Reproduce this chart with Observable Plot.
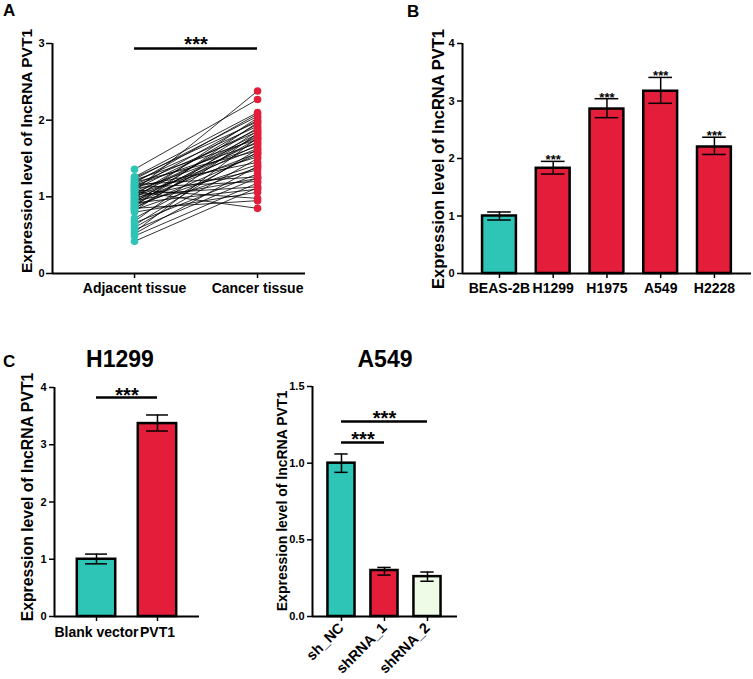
<!DOCTYPE html>
<html>
<head>
<meta charset="utf-8">
<script src="https://cdn.jsdelivr.net/npm/d3@7"></script>
<script src="https://cdn.jsdelivr.net/npm/@observablehq/plot@0.6"></script>
<style>
  html, body { margin: 0; padding: 0; background: #fff; }
  #fig { position: relative; width: 753px; height: 679px; background: #fff; overflow: hidden;
         font-family: "Liberation Sans", Arial, sans-serif; font-weight: bold; color: #000; }
  .panel { position: absolute; }
  .panel svg { display: block; }
  .lbl { position: absolute; white-space: nowrap; line-height: 1; font-weight: bold; }
  .ylab { position: absolute; white-space: nowrap; line-height: 1; font-weight: bold;
          transform: translate(-50%, -50%) rotate(-90deg); }
</style>
</head>
<body>
<div id="fig"></div>
<script>
// ---------- Data ----------
const tissueGroups = ["Adjacent tissue", "Cancer tissue"];
const adjacentValues = [1.36,1.26,1.25,1.23,1.22,1.2,1.19,1.18,1.16,1.16,1.15,1.13,1.12,1.12,1.1,1.09,1.08,1.08,1.07,1.05,1.04,1.03,1.03,1.01,1.0,0.99,0.98,0.96,0.95,0.95,0.93,0.92,0.91,0.9,0.89,0.88,0.86,0.85,0.85,0.83,0.82,0.8,0.72,0.68,0.66,0.63,0.6,0.57,0.54,0.52,0.49,0.42];
const cancerValues = [2.27,2.1,1.98,2.05,1.75,1.92,1.6,2.08,1.26,1.85,1.7,1.45,2.0,1.2,1.88,0.98,1.66,2.38,0.85,1.78,1.52,1.95,1.13,1.82,1.63,1.35,2.03,1.72,1.24,1.57,1.9,1.1,1.8,1.68,1.42,1.97,1.55,0.95,1.76,1.38,1.86,1.06,1.58,1.83,1.3,1.62,1.5,1.25,1.77,1.4,1.18,1.12];
const tissueTicks = [0, 1, 2, 3];
const tissueComparisons = [{from: 0, to: 1, level: 2.935}];

const cellLines = ["BEAS-2B", "H1299", "H1975", "A549", "H2228"];
const cellMeans = [1.0, 1.83, 2.86, 3.17, 2.2];
const cellLow   = [0.93, 1.73, 2.71, 2.96, 2.07];
const cellHigh  = [1.07, 1.95, 3.04, 3.41, 2.37];
const cellStars = ["", "***", "***", "***", "***"];
const cellTicks = [0, 1, 2, 3, 4];

const h1299Groups = ["Blank vector", "PVT1"];
const h1299Means = [1.0, 3.37];
const h1299Low   = [0.92, 3.24];
const h1299High  = [1.09, 3.52];
const h1299Ticks = [0, 1, 2, 3, 4];
const h1299Comparisons = [{from: 0, to: 1, level: 3.825}];

const a549Groups = ["sh_NC", "shRNA_1", "shRNA_2"];
const a549Means = [1.0, 0.30, 0.26];
const a549Low   = [0.94, 0.27, 0.23];
const a549High  = [1.06, 0.32, 0.29];
const a549Ticks = [0, 0.5, 1.0, 1.5];
const a549Comparisons = [{from: 0, to: 2, level: 1.272}, {from: 0, to: 1, level: 1.135}];

// ---------- Styles ----------
const TEAL = "#2EC4B6";
const RED = "#E41E3A";
const PALE = "#EEFBE6";
const FONT = "'Liberation Sans', Arial, sans-serif";

const fig = document.getElementById("fig");

function place(node, left, top) {
  const d = document.createElement("div");
  d.className = "panel";
  d.style.left = left + "px";
  d.style.top = top + "px";
  d.appendChild(node);
  fig.appendChild(d);
}
function label(text, left, baseline, size, center) {
  const d = document.createElement("div");
  d.className = "lbl";
  d.textContent = text;
  d.style.fontSize = size + "px";
  d.style.top = (baseline - 0.8465 * size) + "px";
  d.style.left = left + "px";
  if (center) d.style.transform = "translateX(-50%)";
  fig.appendChild(d);
}
function ylabel(text, cx, cy, size) {
  const d = document.createElement("div");
  d.className = "ylab";
  d.textContent = text;
  d.style.fontSize = size + "px";
  d.style.left = cx + "px";
  d.style.top = cy + "px";
  fig.appendChild(d);
}
const baseStyle = {fontFamily: FONT, fontWeight: "bold", fontSize: "11px", color: "black", background: "transparent"};

// ---------- Panel A ----------
const pairs = adjacentValues.map((a, k) => ({a, c: cancerValues[k]}));
const xDomA = [-0.667, 1.39];
const plotA = Plot.plot({
  width: 310, height: 310,
  marginLeft: 52, marginRight: 5, marginTop: 43, marginBottom: 37,
  x: {domain: xDomA}, y: {domain: [0, 3]},
  style: baseStyle,
  marks: [
    Plot.link(pairs, {x1: () => 0, x2: () => 1, y1: "a", y2: "c", stroke: "black", strokeWidth: 0.8}),
    Plot.dot(adjacentValues, {x: () => 0, y: d => d, r: 3.8, fill: TEAL, stroke: "none"}),
    Plot.dot(cancerValues, {x: () => 1, y: d => d, r: 3.8, fill: RED, stroke: "none"}),
    Plot.ruleX([xDomA[0]], {stroke: "black", strokeWidth: 2}),
    Plot.ruleY([0], {stroke: "black", strokeWidth: 2}),
    Plot.ruleY(tissueComparisons, {x1: "from", x2: "to", y: "level", stroke: "black", strokeWidth: 2.5}),
    Plot.text(tissueComparisons, {x: d => (d.from + d.to) / 2, y: "level", text: () => "***", lineAnchor: "bottom", dy: 3, fontSize: 20, fontWeight: "bold"}),
    Plot.axisX({ticks: [0, 1], tickFormat: i => tissueGroups[i], tickSize: 5, tickPadding: 5, fontSize: 14, strokeWidth: 1.5, label: null}),
    Plot.axisY({ticks: tissueTicks, tickFormat: d => String(d), tickSize: 6, tickPadding: 2, fontSize: 11, strokeWidth: 1.5, label: null})
  ]
});
place(plotA, 0, 0);

// ---------- Bar panel helper ----------
function barPanel(cfg) {
  const idx = cfg.cats.map((_, i) => i);
  const rows = idx.map(i => ({i, mean: cfg.means[i], low: cfg.low[i], high: cfg.high[i], fill: cfg.fills[i], star: cfg.stars ? cfg.stars[i] : ""}));
  const hw = 0.315, cw = cfg.cap;
  const marks = [
    Plot.rect(rows, {x1: d => d.i - hw, x2: d => d.i + hw, y1: () => 0, y2: "mean", fill: "fill", stroke: "black", strokeWidth: 2.5}),
    Plot.ruleX(rows, {x: "i", y1: "low", y2: "high", stroke: "black", strokeWidth: 1.5}),
    Plot.ruleY(rows, {x1: d => d.i - cw, x2: d => d.i + cw, y: "high", stroke: "black", strokeWidth: 1.5}),
    Plot.ruleY(rows, {x1: d => d.i - cw, x2: d => d.i + cw, y: "low", stroke: "black", strokeWidth: 1.5}),
    Plot.ruleX([cfg.xDomain[0]], {stroke: "black", strokeWidth: 2}),
    Plot.ruleY([0], {stroke: "black", strokeWidth: 2}),
    Plot.axisX({ticks: idx, tickFormat: i => cfg.cats[i], tickSize: 5, tickPadding: cfg.xPad, tickRotate: cfg.rotate || 0, fontSize: cfg.xFont, strokeWidth: 1.5, label: null}),
    Plot.axisY({ticks: cfg.yTicks, tickFormat: cfg.yFormat, tickSize: 5, tickPadding: 3, fontSize: 11, strokeWidth: 1.5, label: null})
  ];
  if (cfg.stars) {
    marks.push(Plot.text(rows.filter(d => d.star), {x: "i", y: "high", text: "star", lineAnchor: "bottom", dy: 3, fontSize: 13, fontWeight: "bold"}));
  }
  if (cfg.comparisons) {
    marks.push(Plot.ruleY(cfg.comparisons, {x1: "from", x2: "to", y: "level", stroke: "black", strokeWidth: 2.5}));
    marks.push(Plot.text(cfg.comparisons, {x: d => (d.from + d.to) / 2, y: "level", text: () => "***", lineAnchor: "bottom", dy: 4, fontSize: 20, fontWeight: "bold"}));
  }
  return Plot.plot({
    width: cfg.width, height: cfg.height,
    marginLeft: cfg.ml, marginRight: cfg.mr, marginTop: cfg.mt, marginBottom: cfg.mb,
    x: {domain: cfg.xDomain}, y: {domain: cfg.yDomain},
    color: {type: "identity"},
    style: baseStyle,
    marks
  });
}

// ---------- Panel B ----------
place(barPanel({
  cats: cellLines, means: cellMeans, low: cellLow, high: cellHigh, stars: cellStars,
  fills: [TEAL, RED, RED, RED, RED], cap: 0.22,
  xDomain: [-0.688, 4.69], yDomain: [0, 4], yTicks: cellTicks, yFormat: d => String(d),
  width: 373, height: 310, ml: 82, mr: 2, mt: 43, mb: 37, xPad: 5, xFont: 14
}), 380, 0);

// ---------- Panel C left ----------
place(barPanel({
  cats: h1299Groups, means: h1299Means, low: h1299Low, high: h1299High,
  fills: [TEAL, RED], cap: 0.18, comparisons: h1299Comparisons,
  xDomain: [-0.689, 1.689], yDomain: [0, 4], yTicks: h1299Ticks, yFormat: d => String(d),
  width: 240, height: 349, ml: 54, mr: 41, mt: 57, mb: 63, xPad: 6, xFont: 14
}), 0, 330);

// ---------- Panel C right ----------
place(barPanel({
  cats: a549Groups, means: a549Means, low: a549Low, high: a549High,
  fills: [TEAL, RED, PALE], cap: 0.155, comparisons: a549Comparisons,
  xDomain: [-0.674, 2.698], yDomain: [0, 1.5], yTicks: a549Ticks, yFormat: d3.format(".1f"),
  width: 250, height: 329, ml: 52, mr: 53, mt: 36, mb: 63, xPad: 4, xFont: 14.5, rotate: -45
}), 260, 350);

// ---------- Text ----------
label("A", 3, 16, 17);
label("B", 407, 17, 17);
label("C", 3, 367, 17);
label("H1299", 120, 367, 23, true);
label("A549", 385, 367, 23, true);
ylabel("Expression level of lncRNA PVT1", 27, 151, 15.5);
ylabel("Expression level of lncRNA PVT1", 438, 159, 16.5);
ylabel("Expression level of lncRNA PVT1", 28, 497, 15.8);
ylabel("Expression level of lncRNA PVT1", 282, 501, 14);
</script>
</body>
</html>
